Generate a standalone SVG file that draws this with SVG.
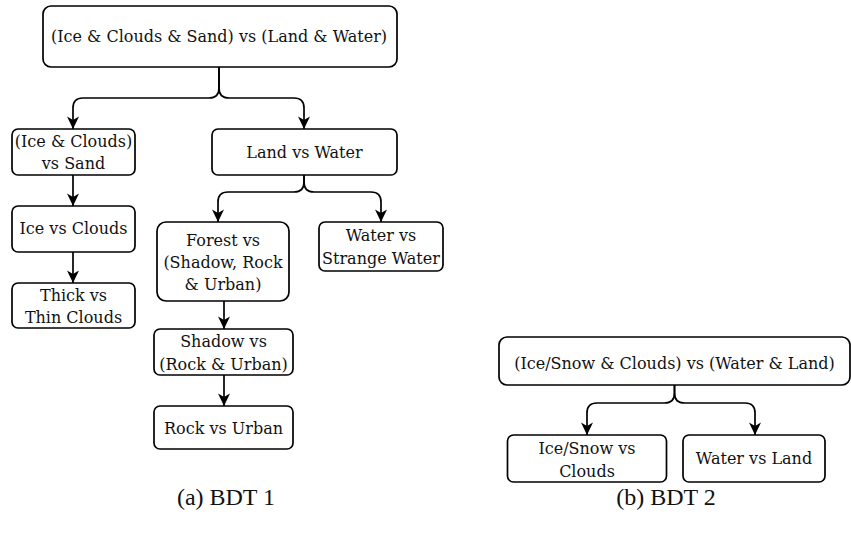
<svg xmlns="http://www.w3.org/2000/svg" width="851" height="536" viewBox="0 0 851 536">
  <style>
    .box { fill: #ffffff; stroke: #000000; stroke-width: 1.7; }
    .lbl { font-family: "DejaVu Serif", "Liberation Serif", serif; font-size: 16px; fill: #111111; text-anchor: middle; dominant-baseline: central; }
    .cap { font-family: "Liberation Serif", serif; font-size: 24px; fill: #111111; text-anchor: middle; dominant-baseline: central; }
    .edge { fill: none; stroke: #000000; stroke-width: 1.7; marker-end: url(#arrow); }
  </style>
  <defs>
    <marker id="arrow" markerUnits="userSpaceOnUse" markerWidth="14" markerHeight="13" refX="13" refY="6.5" orient="auto">
      <path d="M0.5,0.5 L13,6.5 L0.5,12.5 L4,6.5 Z" fill="#000000"/>
    </marker>
  </defs>
  <rect width="851" height="536" fill="#ffffff"/>

  <!-- Tree 1 -->
  <g id="n-root1">
    <rect class="box" x="43" y="6" width="354" height="61" rx="8"/>
    <text class="lbl" x="219" y="36">(Ice &amp; Clouds &amp; Sand) vs (Land &amp; Water)</text>
  </g>
  <g id="n-ice-clouds-sand">
    <rect class="box" x="12" y="129" width="123" height="46" rx="6"/>
    <text class="lbl" x="73.5" y="141.5">(Ice &amp; Clouds)</text>
    <text class="lbl" x="73.5" y="163.5">vs Sand</text>
  </g>
  <g id="n-land-water">
    <rect class="box" x="212" y="129" width="185" height="46" rx="6"/>
    <text class="lbl" x="304.5" y="152">Land vs Water</text>
  </g>
  <g id="n-ice-clouds">
    <rect class="box" x="12" y="206" width="123" height="46" rx="6"/>
    <text class="lbl" x="73.5" y="228.5">Ice vs Clouds</text>
  </g>
  <g id="n-thick-thin">
    <rect class="box" x="12" y="283" width="123" height="45" rx="6"/>
    <text class="lbl" x="73.5" y="295">Thick vs</text>
    <text class="lbl" x="73.5" y="317.5">Thin Clouds</text>
  </g>
  <g id="n-forest">
    <rect class="box" x="157" y="222" width="132" height="79" rx="9"/>
    <text class="lbl" x="223" y="240">Forest vs</text>
    <text class="lbl" x="223" y="262">(Shadow, Rock</text>
    <text class="lbl" x="223" y="284">&amp; Urban)</text>
  </g>
  <g id="n-water-strange">
    <rect class="box" x="319" y="222" width="124" height="49" rx="6"/>
    <text class="lbl" x="381" y="235">Water vs</text>
    <text class="lbl" x="381" y="258">Strange Water</text>
  </g>
  <g id="n-shadow">
    <rect class="box" x="154" y="329" width="139" height="46" rx="6"/>
    <text class="lbl" x="223.5" y="341.5">Shadow vs</text>
    <text class="lbl" x="223.5" y="364">(Rock &amp; Urban)</text>
  </g>
  <g id="n-rock-urban">
    <rect class="box" x="154" y="406" width="139" height="43" rx="6"/>
    <text class="lbl" x="223.5" y="428">Rock vs Urban</text>
  </g>

  <!-- Tree 2 -->
  <g id="n-root2">
    <rect class="box" x="499" y="337" width="351" height="48" rx="8"/>
    <text class="lbl" x="674.5" y="363">(Ice/Snow &amp; Clouds) vs (Water &amp; Land)</text>
  </g>
  <g id="n-icesnow-clouds">
    <rect class="box" x="507.5" y="435" width="159" height="47" rx="6"/>
    <text class="lbl" x="587" y="448">Ice/Snow vs</text>
    <text class="lbl" x="587" y="471">Clouds</text>
  </g>
  <g id="n-water-land">
    <rect class="box" x="683" y="435" width="142" height="47" rx="6"/>
    <text class="lbl" x="754" y="458">Water vs Land</text>
  </g>

  <!-- Connectors -->
  <g id="connectors">
    <path class="edge" d="M219,67 V88 Q219,98 209,98 H83 Q73,98 73,108 V129"/>
    <path class="edge" d="M219,67 V88 Q219,98 229,98 H294 Q304,98 304,108 V129"/>
    <path class="edge" d="M73,175 V206"/>
    <path class="edge" d="M73,252 V283"/>
    <path class="edge" d="M304,175 V182 Q304,192 294,192 H228 Q218,192 218,202 V222"/>
    <path class="edge" d="M304,175 V182 Q304,192 314,192 H371 Q381,192 381,202 V222"/>
    <path class="edge" d="M224,301 V329"/>
    <path class="edge" d="M224,375 V406"/>
    <path class="edge" d="M674.5,385 V393 Q674.5,403 664.5,403 H597 Q587,403 587,413 V435"/>
    <path class="edge" d="M674.5,385 V393 Q674.5,403 684.5,403 H745 Q755,403 755,413 V435"/>
  </g>

  <!-- Captions -->
  <text class="cap" x="226" y="497">(a) BDT 1</text>
  <text class="cap" x="666" y="497">(b) BDT 2</text>
</svg>
